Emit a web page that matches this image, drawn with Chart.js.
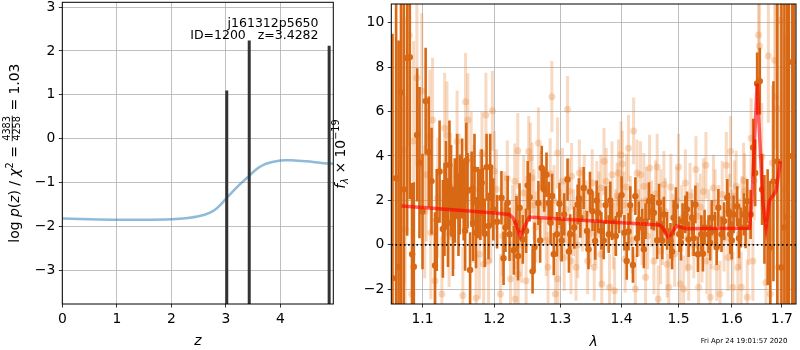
<!DOCTYPE html>
<html><head><meta charset="utf-8">
<script src="https://cdn.jsdelivr.net/npm/chart.js@4/dist/chart.umd.min.js"></script>
<style>
html,body{margin:0;padding:0;background:#fff;}
#wrap{position:relative;width:800px;height:350px;overflow:hidden;background:#fff;}
canvas{position:absolute;top:0;}
#pz{left:0;}
#sp{left:325px;}
</style></head><body>
<div id="wrap"><canvas id="pz" width="345" height="350"></canvas><canvas id="sp" width="475" height="350"></canvas></div>
<script>
// ---- redshift probability panel ----
const zGrid = [0, 0.5, 1.0, 1.5, 2.0, 2.3, 2.5, 2.7, 2.8, 2.9, 3.0, 3.1, 3.2, 3.3, 3.4, 3.5, 3.6, 3.7, 3.8, 3.9, 4.0, 4.1, 4.2, 4.4, 4.6, 4.8, 4.97];
const logPz = [-1.82, -1.84, -1.85, -1.85, -1.84, -1.81, -1.77, -1.69, -1.62, -1.51, -1.37, -1.24, -1.11, -0.99, -0.88, -0.76, -0.66, -0.59, -0.55, -0.52, -0.50, -0.49, -0.49, -0.51, -0.53, -0.56, -0.57];
const zPeaks = [3.016, 3.4282, 4.894];
const peakTops = [1.10, 2.24, 2.12];
const zTicks = [0, 1, 2, 3, 4];
const logPTicks = [-3, -2, -1, 0, 1, 2, 3];

// ---- spectrum panel ----
const lamTicks = [1.1, 1.2, 1.3, 1.4, 1.5, 1.6, 1.7];
const fluxTicks = [-2, 0, 2, 4, 6, 8, 10];

// first grism position (solid points)
const lamDark = [1.0607,1.0654,1.0686,1.0717,1.0753,1.0797,1.0832,1.0863,1.0885,1.0929,1.0960,1.1042,1.1084,1.1121,1.1168,1.1191,1.1275,1.1317,1.1345,1.1387,1.1439,1.1471,1.1509,1.1541,1.1583,1.1617,1.1653,1.1695,1.1737,1.1765,1.1799,1.1836,1.1888,1.1916,1.1940,1.1985,
1.2040,1.2104,1.2163,1.2223,1.2287,1.2327,1.2372,1.2421,1.2471,1.2495,1.2525,1.2569,1.2599,1.2658,1.2709,1.2747,1.2783,1.2817,1.2847,1.2896,1.2946,1.2985,1.3060,1.3113,1.3156,1.3221,1.3274,1.3318,1.3371,1.3426,1.3474,1.3516,1.3560,1.3608,1.3661,
1.3732,1.3785,1.3839,1.3903,1.3958,1.4000,1.4048,1.4088,1.4148,1.4194,1.4236,1.4295,1.4353,1.4413,1.4471,1.4519,1.4559,1.4617,1.4677,1.4736,1.4794,1.4854,1.4912,1.4952,1.5013,1.5074,1.5124,1.5185,1.5246,1.5309,1.5357,1.5420,1.5481,
1.5556,1.5617,1.5679,1.5741,1.5802,1.5852,1.5913,1.5969,1.6034,1.6105,1.6172,1.6237,1.6302,1.6369,1.6420,1.6460,1.6499,1.6552,1.6598,1.6645,1.6710,1.6763,1.6828,1.6907,1.6992,1.7053,1.7108,1.7145,1.7217,1.7255,
1.1000,1.1230,1.1297,1.1365,1.1413,1.1490,1.1563,1.1600,1.1675,1.1715,1.1818,1.1862,1.1960,
1.2135,1.2195,1.2350,1.2685,1.2870,1.3020,1.3135,1.3295,1.3450,1.3585,1.3700,1.3810,1.4118,1.4265,
1.4383,1.4650,1.4707,1.4883,1.5045,1.5155,1.5278,1.5450,1.5586,1.5710,1.5941,1.6000,1.6140,1.6270];
const fluxDark = [-1.5,3.0,-1.0,6.86,2.5,8.41,8.45,-0.42,-0.98,4.95,3.70,6.47,4.18,2.87,-0.93,1.12,0.72,2.68,1.00,2.49,2.00,3.10,2.27,2.99,0.64,2.44,-1.13,0.98,0.55,1.90,1.82,1.97,3.50,0.85,3.50,1.60,
1.04,2.12,0.78,0.48,-0.24,1.00,1.67,0.25,0.63,2.68,2.15,-1.19,-0.09,1.89,3.46,2.49,3.16,1.89,1.00,-0.42,0.48,1.85,1.37,2.94,0.48,0.78,1.82,1.22,2.56,0.63,2.39,1.52,0.18,1.45,0.63,
1.79,0.48,1.07,0.40,1.37,2.24,0.55,-0.72,1.79,-0.90,2.19,1.15,0.78,1.07,1.97,1.49,1.45,0.21,0.93,1.37,0.63,0.18,1.22,1.74,0.48,1.07,1.37,0.25,1.22,1.82,-0.42,0.48,0.78,
0.48,1.22,0.63,1.67,0.48,1.07,2.12,0.48,1.37,1.74,0.78,1.37,1.97,1.37,4.38,3.24,7.26,7.37,2.49,1.15,0.80,-0.12,2.86,3.76,-1.02,0.78,1.25,4.0,8.23,-3.0,
1.5,3.3,1.6,3.6,0.5,1.3,2.0,3.8,2.5,3.4,2.8,0.5,2.2,
-0.6,1.9,-0.5,0.2,2.2,0.2,-0.3,2.1,-0.2,2.0,0.2,2.0,0.6,0.3,
-0.2,1.9,0.2,-0.3,0.1,1.6,0.3,-0.4,0.1,-0.1,1.5,0.2,0.3,0.8];
const errDark = [11,12,10.2,10,12,8,6.4,3.2,3.8,3.0,3.4,2.4,2.5,2.4,2.4,2.3,2.2,2.0,2.0,2.0,1.9,1.9,1.8,1.8,1.8,1.7,1.7,1.7,1.6,1.6,1.6,1.5,1.5,1.5,1.5,1.4,
1.2,1.2,1.1,1.2,1.1,1.2,1.1,1.1,1.0,1.1,1.1,1.0,1.1,1.0,1.0,1.0,1.0,0.95,1.0,0.95,1.0,0.95,0.95,0.95,0.9,0.95,0.9,0.9,0.95,0.9,0.9,0.9,0.85,0.9,0.85,
0.85,0.85,0.85,0.9,0.85,0.85,0.8,0.85,0.85,0.8,0.85,0.8,0.85,0.8,0.85,0.8,0.8,0.85,0.8,0.8,0.85,0.8,0.8,0.85,0.8,0.8,0.85,0.8,0.8,0.85,0.8,0.85,0.8,
0.85,0.8,0.85,0.85,0.8,0.85,0.85,0.9,0.85,0.9,0.9,0.95,1.0,1.1,1.3,1.5,1.4,1.5,1.6,2.0,2.6,3.0,4.5,7.5,12,12,12,14,12,16,
2.6,2.3,2.1,2.0,1.9,1.8,1.8,1.7,1.7,1.6,1.5,1.5,1.4,
1.2,1.2,1.1,1.0,1.0,0.95,0.95,0.9,0.9,0.9,0.85,0.85,0.85,0.85,
0.85,0.85,0.85,0.8,0.8,0.8,0.8,0.8,0.8,0.8,0.85,0.85,0.9,0.95];

// second grism position (faint points)
const lamLight = [1.0759,1.0772,1.0825,1.0859,1.0882,1.0925,1.0991,1.1050,1.1098,1.1112,1.1135,1.1168,1.1205,1.1261,1.1299,1.1331,1.1379,1.1425,1.1471,1.1551,1.1589,1.1621,1.1668,1.1710,1.1738,1.1785,1.1822,1.1846,1.1878,1.1916,1.1972,1.2000,
1.2089,1.2150,1.2238,1.2302,1.2306,1.2330,1.2346,1.2352,1.2435,1.2471,1.2480,1.2510,1.2535,1.2560,1.2620,1.2658,1.2750,1.2807,1.2866,1.2900,1.2921,1.2955,1.2960,1.3000,
1.3032,1.3060,1.3113,1.3168,1.3177,1.3248,1.3302,1.3350,1.3382,1.3436,1.3480,1.3544,1.3587,1.3652,1.3655,1.3668,1.3705,1.3742,1.3797,1.3839,1.3882,1.3900,1.3947,1.3990,
1.4012,1.4060,1.4118,1.4150,1.4206,1.4236,1.4265,1.4325,1.4383,1.4413,1.4450,1.4483,1.4559,1.4617,1.4635,1.4677,1.4680,1.4736,1.4794,1.4824,1.4900,1.4970,
1.5000,1.5031,1.5093,1.5124,1.5185,1.5250,1.5320,1.5370,1.5400,1.5432,1.5506,1.5524,1.5587,1.5648,1.5710,1.5750,1.5773,1.5815,1.5894,1.5926,1.5976,
1.6000,1.6020,1.6085,1.6118,1.6183,1.6200,1.6250,1.6302,1.6380,1.6414,1.6526,1.6546,1.6592,1.6677,1.6724,1.6763,1.6808,1.6854,1.6873,1.6907,1.6927,1.6972,1.7053,
1.1030,1.1360,1.1500,1.1700,1.1800,1.1950,
1.2030,1.2120,1.2190,1.2270,1.2400,1.2590,1.2700,1.2780,1.2840,1.3080,1.3140,1.3210,1.3275,1.3320,1.3410,1.3510,1.3570,1.3620,1.3770,1.3860,1.3925,
1.4040,1.4085,1.4180,1.4290,1.4350,1.4430,1.4520,1.4590,1.4710,1.4760,1.4860,1.4930,1.5060,1.5150,1.5210,1.5280,1.5350,1.5460,1.5560,1.5610,1.5680,
1.5850,1.5955,1.6050,1.6150,1.6230,1.6330,1.6440];
const fluxLight = [4.28,0.70,9.43,-2.21,4.68,7.52,6.92,3.16,4.88,0.55,5.62,-1.61,2.12,-2.21,5.25,4.95,2.64,1.22,4.65,-2.28,6.44,5.62,3.91,2.49,-2.39,-0.42,4.09,-0.87,5.85,-0.72,6.04,3.31,
-2.21,1.50,-1.54,2.86,-2.43,0.60,4.24,-1.31,2.34,-1.61,1.50,4.20,3.91,3.01,0.80,4.58,1.80,-1.01,6.67,2.00,-2.21,4.13,-1.54,0.90,
2.86,-0.57,6.10,-0.72,3.09,-1.01,3.24,1.20,2.56,-0.72,0.50,-1.01,2.27,2.56,-0.42,-1.76,3.76,2.86,-1.91,3.16,-2.06,1.00,3.24,4.06,
3.64,-0.64,4.35,1.60,5.13,-1.98,3.24,3.16,2.64,-1.46,0.40,3.46,-0.72,3.50,-2.43,-0.27,1.90,2.72,-0.87,-1.91,0.80,2.00,
3.50,-1.76,-1.98,2.79,-1.01,1.00,3.39,-1.91,1.70,-0.19,3.58,-0.72,-2.36,2.56,-1.01,1.20,-2.21,2.27,3.58,-0.57,4.20,
0.90,-1.91,2.64,-1.01,-1.91,1.50,2.42,-2.36,4.80,-0.72,9.45,8.95,3.98,-1.69,8.50,-2.21,3.68,8.31,6.67,6.14,-1.01,10.10,2.49,
1.5,0.5,2.8,1.2,2.4,1.0,
2.5,0.4,3.0,1.0,0.0,1.8,2.6,0.2,3.2,1.6,2.4,1.0,0.0,2.0,1.4,2.8,0.6,1.8,1.2,0.4,2.2,
1.8,2.6,0.2,1.0,0.6,2.0,1.4,2.3,0.6,1.5,2.6,-0.4,1.2,0.3,2.2,0.0,1.3,2.4,1.0,0.4,1.9,
0.3,1.7,2.2,0.5,2.9,0.8,2.9];
const errLight = [6,6,5,5,4.5,4,3.5,3,3,3,2.8,2.8,2.7,2.6,2.5,2.4,2.4,2.3,2.3,2.2,2.2,2.1,2.1,2.0,2.0,2.0,1.9,1.9,1.9,1.9,1.8,1.8,
1.8,1.8,1.7,1.7,1.7,1.7,1.7,1.7,1.7,1.6,1.6,1.6,1.6,1.6,1.6,1.6,1.6,1.6,1.6,1.6,1.6,1.6,1.6,1.6,
1.5,1.5,1.5,1.5,1.5,1.5,1.5,1.5,1.5,1.5,1.5,1.5,1.5,1.5,1.5,1.5,1.5,1.5,1.5,1.5,1.5,1.5,1.5,1.5,
1.5,1.5,1.5,1.5,1.5,1.5,1.5,1.5,1.5,1.5,1.5,1.5,1.5,1.5,1.5,1.5,1.5,1.5,1.5,1.5,1.5,1.5,
1.5,1.5,1.5,1.5,1.5,1.5,1.5,1.5,1.5,1.5,1.5,1.5,1.5,1.5,1.5,1.5,1.5,1.5,1.5,1.5,1.6,
1.6,1.6,1.6,1.6,1.6,1.6,1.7,1.7,1.8,1.8,2.2,2.2,2.4,2.6,3.0,3.0,3.5,4,4.5,5,5,6,7,
3.0,2.4,2.2,2.0,1.9,1.8,
1.8,1.8,1.7,1.7,1.7,1.6,1.6,1.6,1.6,1.5,1.5,1.5,1.5,1.5,1.5,1.5,1.5,1.5,1.5,1.5,1.5,
1.5,1.5,1.5,1.5,1.5,1.5,1.5,1.5,1.5,1.5,1.5,1.5,1.5,1.5,1.5,1.5,1.5,1.5,1.5,1.5,1.5,
1.5,1.5,1.6,1.6,1.7,1.7,1.8];

const lamModel = [1.0726,1.1000,1.1500,1.2000,1.2218,1.2280,1.2330,1.2380,1.2430,1.2515,1.3080,1.4000,1.4663,1.4720,1.4770,1.4810,1.4860,1.4959,1.5140,1.5500,1.6349,1.6394,1.6445,1.6499,1.6555,1.6611,1.6677,1.6744,1.6760,1.6880,1.6972];
const fluxModel = [1.745,1.68,1.56,1.44,1.37,1.20,0.85,0.40,0.70,1.25,1.15,1.00,0.895,0.75,0.50,0.36,0.45,0.85,0.73,0.74,0.75,2.00,4.60,7.26,4.60,1.97,0.78,1.97,2.04,2.42,3.76];

const LAM_MIN = 1.0592, LAM_MAX = 1.7294;
const FLUX_MIN = -2.66, FLUX_MAX = 10.84;
const Z_MIN = 0, Z_MAX = 4.97;
const LP_MIN = -3.77, LP_MAX = 3.11;

const FONT = '"DejaVu Sans", sans-serif';
const TICK_PX = 13.9;
const ORANGE = 'rgb(216,104,20)';
const ORANGE_LIGHT = 'rgba(232,128,50,0.3)';

const fmtTick = v => (v < 0 ? '\u2212' : '') + Math.abs(v);

function fixTicks(list) {
  return scale => { scale.ticks = list.map(v => ({ value: v })); };
}

function axisOpts(min, max, list, fmt, type) {
  return {
    type: type || 'linear', min, max,
    afterBuildTicks: fixTicks(list),
    ticks: { callback: fmt, font: { family: FONT, size: TICK_PX }, color: '#000', padding: 3.5, autoSkip: false, maxRotation: 0 },
    grid: { color: '#b0b0b0', lineWidth: 0.8, drawTicks: true, tickLength: 3.5, tickColor: '#000', tickWidth: 0.8 },
    border: { display: false }
  };
}

const frame = {
  id: 'frame',
  afterDraw(chart) {
    const { ctx, chartArea: a } = chart;
    ctx.save();
    ctx.strokeStyle = '#000'; ctx.lineWidth = 1;
    ctx.strokeRect(a.left, a.top, a.right - a.left, a.bottom - a.top);
    ctx.restore();
  }
};

const errorBars = {
  id: 'errorBars',
  beforeDatasetDraw(chart, args) {
    const ds = chart.data.datasets[args.index];
    if (!ds.errColor) return;
    const { ctx, chartArea: a } = chart;
    const xs = chart.scales.x, ys = chart.scales.y;
    ctx.save();
    ctx.beginPath(); ctx.rect(a.left, a.top, a.right - a.left, a.bottom - a.top); ctx.clip();
    ctx.strokeStyle = ds.errColor; ctx.lineWidth = ds.errWidth; ctx.lineCap = 'butt';
    for (const p of ds.data) {
      const px = xs.getPixelForValue(p.x);
      ctx.beginPath();
      ctx.moveTo(px, ys.getPixelForValue(p.y - p.e));
      ctx.lineTo(px, ys.getPixelForValue(p.y + p.e));
      ctx.stroke();
    }
    ctx.restore();
  }
};

// draws a sequence of text runs (with optional stacked fraction) along one baseline
function runWidth(ctx, r) {
  if (r.frac) {
    ctx.font = r.f;
    return Math.max(ctx.measureText(r.frac[0]).width, ctx.measureText(r.frac[1]).width) + 2;
  }
  ctx.font = r.f; return ctx.measureText(r.t).width;
}
function drawRuns(ctx, runs, cx, cy, rotate) {
  ctx.save();
  ctx.translate(cx, cy);
  if (rotate) ctx.rotate(-Math.PI / 2);
  ctx.fillStyle = '#000'; ctx.textBaseline = 'alphabetic'; ctx.textAlign = 'left';
  let total = 0;
  for (const r of runs) total += runWidth(ctx, r);
  let x = -total / 2;
  for (const r of runs) {
    const w = runWidth(ctx, r);
    if (r.frac) {
      ctx.font = r.f;
      const wn = ctx.measureText(r.frac[0]).width, wd = ctx.measureText(r.frac[1]).width;
      ctx.fillText(r.frac[0], x + (w - wn) / 2, r.numDy);
      ctx.fillText(r.frac[1], x + (w - wd) / 2, r.denDy);
      ctx.fillRect(x + 0.5, r.barDy - 0.4, w - 1, 0.8);
    } else {
      ctx.font = r.f;
      ctx.fillText(r.t, x, r.dy || 0);
    }
    x += w;
  }
  ctx.restore();
}

const REG = `${TICK_PX}px ${FONT}`;
const ITA = `italic ${TICK_PX}px ${FONT}`;
const SMALL = `${(TICK_PX * 0.7).toFixed(2)}px ${FONT}`;
const SMALL_ITA = `italic ${(TICK_PX * 0.7).toFixed(2)}px ${FONT}`;

const pzLabels = {
  id: 'pzLabels',
  afterDraw(chart) {
    const { ctx, chartArea: a } = chart;
    drawRuns(ctx, [
      { t: 'log ', f: REG }, { t: 'p', f: ITA }, { t: '(', f: REG }, { t: 'z', f: ITA }, { t: ') / ', f: REG },
      { t: '\u03c7', f: ITA }, { t: '2', f: SMALL, dy: -5.5 }, { t: ' = ', f: REG },
      { frac: ['4383', '4258'], f: SMALL, numDy: -8.3, denDy: 1.5, barDy: -6.3 },
      { t: ' = 1.03', f: REG }
    ], 18.5, (a.top + a.bottom) / 2, true);
    drawRuns(ctx, [{ t: 'z', f: ITA }], (a.left + a.right) / 2, 345, false);
    ctx.save();
    ctx.font = `12.5px ${FONT}`; ctx.fillStyle = '#000'; ctx.textAlign = 'right'; ctx.textBaseline = 'alphabetic';
    ctx.fillText('j161312p5650', 318.5, 26.7);
    ctx.fillText('ID=1200   z=3.4282', 318.5, 39.3);
    ctx.restore();
  }
};

const spLabels = {
  id: 'spLabels',
  afterDraw(chart) {
    const { ctx, chartArea: a } = chart;
    drawRuns(ctx, [
      { t: 'f', f: ITA }, { t: '\u03bb', f: SMALL_ITA, dy: 3 }, { t: ' \u00d7 10', f: REG }, { t: '\u221219', f: SMALL, dy: -5.8 }
    ], 20, (a.top + a.bottom) / 2, true);
    drawRuns(ctx, [{ t: '\u03bb', f: ITA }], (a.left + a.right) / 2, 346, false);
    ctx.save();
    ctx.font = `6.94px ${FONT}`; ctx.fillStyle = '#000'; ctx.textAlign = 'center'; ctx.textBaseline = 'alphabetic';
    ctx.fillText('Fri Apr 24 19:01:57 2020', 419, 343);
    ctx.restore();
  }
};

function sizeY(w) { return s => { s.width = w; s.paddingTop = 0; s.paddingBottom = 0; }; }
function sizeX(h) { return s => { s.height = h; s.paddingLeft = 0; s.paddingRight = 0; }; }

// left: log p(z)
const pzX = axisOpts(Z_MIN, Z_MAX, zTicks, fmtTick); pzX.afterFit = sizeX(46);
const pzY = axisOpts(LP_MIN, LP_MAX, logPTicks, fmtTick); pzY.afterFit = sizeY(62.3);

const peakSets = zPeaks.map((z, i) => ({
  type: 'line', data: [{ x: z, y: LP_MIN - 1 }, { x: z, y: peakTops[i] }],
  borderColor: '#333333', borderWidth: 3, pointRadius: 0, clip: 0, order: 1
}));

new Chart(document.getElementById('pz'), {
  type: 'line',
  data: {
    datasets: [
      ...peakSets,
      { data: zGrid.map((z, i) => ({ x: z, y: logPz[i] })), borderColor: 'rgba(31,119,180,0.5)', borderWidth: 2.5,
        pointRadius: 0, cubicInterpolationMode: 'monotone', clip: 0, order: 2 }
    ]
  },
  options: {
    responsive: false, animation: false, events: [],
    layout: { padding: { left: 0, right: 345 - 333.3, top: 2.3, bottom: 0 } },
    plugins: { legend: { display: false }, tooltip: { enabled: false } },
    scales: { x: pzX, y: pzY }
  },
  plugins: [frame, pzLabels]
});

// right: spectrum
const spX = axisOpts(LAM_MIN, LAM_MAX, lamTicks, v => v.toFixed(1), 'logarithmic'); spX.afterFit = sizeX(46);
const spY = axisOpts(FLUX_MIN, FLUX_MAX, fluxTicks, fmtTick); spY.afterFit = sizeY(66.3);

new Chart(document.getElementById('sp'), {
  type: 'scatter',
  data: {
    datasets: [
      { type: 'line', data: lamModel.map((x, i) => ({ x, y: fluxModel[i] })), borderColor: 'rgba(255,0,0,0.62)',
        borderWidth: 3.5, pointRadius: 0, tension: 0, clip: 0, order: 0 },
      { type: 'line', data: [{ x: LAM_MIN, y: 0 }, { x: LAM_MAX, y: 0 }], borderColor: '#000', borderWidth: 1.6,
        borderDash: [1.6, 2.6], pointRadius: 0, clip: 0, order: 1 },
      { data: lamDark.map((x, i) => ({ x, y: fluxDark[i], e: errDark[i] })), errColor: ORANGE, errWidth: 2.6,
        pointRadius: 3.2, pointBackgroundColor: ORANGE, pointBorderWidth: 0, clip: 0, order: 2 },
      { data: lamLight.map((x, i) => ({ x, y: fluxLight[i], e: errLight[i] })), errColor: ORANGE_LIGHT, errWidth: 3,
        pointRadius: 3.5, pointBackgroundColor: ORANGE_LIGHT, pointBorderWidth: 0, clip: 0, order: 3 }
    ]
  },
  options: {
    responsive: false, animation: false, events: [],
    layout: { padding: { left: 0, right: 1, top: 2.3, bottom: 0 } },
    plugins: { legend: { display: false }, tooltip: { enabled: false } },
    scales: { x: spX, y: spY }
  },
  plugins: [errorBars, frame, spLabels]
});
</script>
</body></html>
